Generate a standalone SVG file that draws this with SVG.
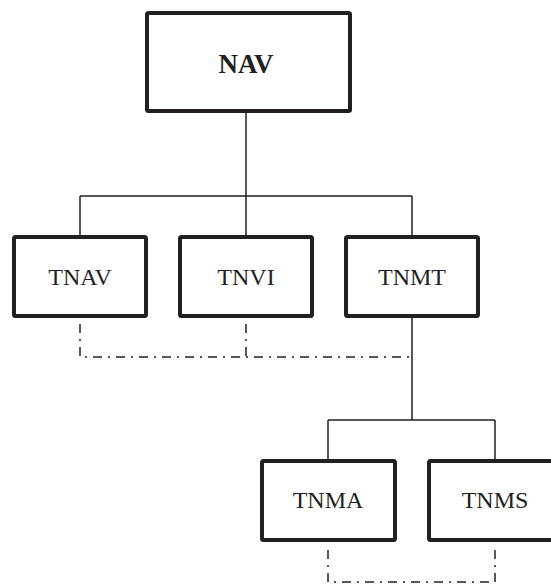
<svg xmlns="http://www.w3.org/2000/svg" width="551" height="586" viewBox="0 0 551 586">
  <style>
    .box { fill: #ffffff; stroke: #231f20; stroke-width: 4; }
    .lbl { font-family: "Liberation Serif", "Times New Roman", serif; font-size: 24px; fill: #231f20; text-anchor: middle; }
    .title { font-weight: bold; font-size: 27px; }
    .link { fill: none; stroke: #231f20; stroke-width: 1.5; }
    .dash { fill: none; stroke: #231f20; stroke-width: 1.5; stroke-dasharray: 9 6 2 6; }
  </style>
  <rect width="551" height="586" fill="#ffffff"/>

  <!-- connectors -->
  <g id="connectors">
    <path class="link" d="M246 111 V196 M80 196 H412 M80 196 V237 M246 196 V237 M412 196 V237"/>
    <path class="link" d="M412 316 V420 M328 420 H495 M328 420 V459 M495 420 V459"/>
    <path class="dash" d="M80 324 V357 H412"/>
    <path class="dash" d="M246 324 V357"/>
    <path class="dash" d="M328 550 V582 H495"/>
    <path class="dash" d="M495 550 V582"/>
  </g>

  <g id="nav">
    <rect class="box" x="147" y="13" width="203" height="98" rx="1.5"/>
    <text class="lbl title" x="246" y="73">NAV</text>
  </g>
  <g id="tnav">
    <rect class="box" x="14" y="237" width="132" height="79" rx="1.5"/>
    <text class="lbl" x="80" y="285">TNAV</text>
  </g>
  <g id="tnvi">
    <rect class="box" x="180" y="237" width="132" height="79" rx="1.5"/>
    <text class="lbl" x="246" y="285">TNVI</text>
  </g>
  <g id="tnmt">
    <rect class="box" x="346" y="237" width="132" height="79" rx="1.5"/>
    <text class="lbl" x="412" y="285">TNMT</text>
  </g>
  <g id="tnma">
    <rect class="box" x="262" y="461" width="133" height="79" rx="1.5"/>
    <text class="lbl" x="328" y="508">TNMA</text>
  </g>
  <g id="tnms">
    <rect class="box" x="429" y="461" width="133" height="79" rx="1.5"/>
    <text class="lbl" x="495" y="508">TNMS</text>
  </g>
</svg>
